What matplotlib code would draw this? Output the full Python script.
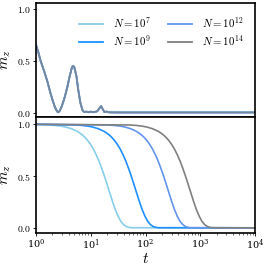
import matplotlib
matplotlib.use("Agg")
from matplotlib import pyplot as plt
from matplotlib.ticker import FormatStrFormatter

plt.rcParams['mathtext.fontset'] = 'cm'
plt.rcParams['font.family'] = 'serif'
plt.rcParams['font.serif'] = ['DejaVu Serif']

labels = [r"$N=10^7$", r"$N=10^9$", r"$N=10^{12}$", r"$N=10^{14}$"]
colors = ["#87CEEB", "#1E90FF", "#6495ED", "#808080"]

# top panel: log10(t) and m_z, same for all N
top_logt = [0.0, 0.04, 0.085, 0.15, 0.21, 0.26, 0.30, 0.34, 0.37, 0.40, 0.43, 0.47,
            0.52, 0.57, 0.62, 0.66, 0.68, 0.70, 0.74, 0.77, 0.81, 0.85, 0.88, 0.92,
            0.96, 1.0, 1.04, 1.08, 1.12, 1.16, 1.19, 1.22, 1.25, 1.29, 1.34, 1.45, 4.0]
top_mz = [0.655, 0.59, 0.50, 0.40, 0.30, 0.20, 0.13, 0.065, 0.03, 0.006, 0.015, 0.06,
          0.14, 0.24, 0.36, 0.44, 0.45, 0.44, 0.35, 0.23, 0.10, 0.025, 0.008, 0.012,
          0.006, 0.012, 0.006, 0.010, 0.015, 0.045, 0.065, 0.035, 0.008, 0.012, 0.005,
          0.004, 0.004]

# bottom panel: log10(t) and m_z for each N
logt_1e7 = [0.0, 0.25, 0.35, 0.45, 0.55, 0.65, 0.75, 0.8, 0.85, 0.9, 0.95, 1.0, 1.05,
            1.1, 1.15, 1.2, 1.25, 1.3, 1.35, 1.4, 1.45, 1.5, 1.55, 1.6, 1.65, 1.7,
            1.75, 4.0]
mz_1e7 = [0.997, 0.993, 0.989, 0.983, 0.973, 0.957, 0.933, 0.916, 0.896, 0.871, 0.840,
          0.803, 0.759, 0.706, 0.646, 0.576, 0.5, 0.418, 0.334, 0.251, 0.175, 0.112,
          0.063, 0.031, 0.0126, 0.004, 0.001, 0.0]
logt_1e9 = [0.0, 0.74, 0.84, 0.94, 1.04, 1.14, 1.24, 1.29, 1.34, 1.39, 1.44, 1.49, 1.54,
            1.59, 1.64, 1.69, 1.74, 1.79, 1.84, 1.89, 1.94, 1.99, 2.04, 2.09, 2.14, 2.19,
            2.24, 4.0]
mz_1e9 = [1.0, 0.993, 0.989, 0.983, 0.973, 0.957, 0.933, 0.916, 0.896, 0.871, 0.840,
          0.803, 0.759, 0.706, 0.646, 0.576, 0.5, 0.418, 0.334, 0.251, 0.175, 0.112,
          0.063, 0.031, 0.0126, 0.004, 0.001, 0.0]
logt_1e12 = [0.0, 1.33, 1.43, 1.53, 1.63, 1.73, 1.83, 1.88, 1.93, 1.98, 2.03, 2.08, 2.13,
             2.18, 2.23, 2.28, 2.33, 2.38, 2.43, 2.48, 2.53, 2.58, 2.63, 2.68, 2.73, 2.78,
             2.83, 4.0]
mz_1e12 = [1.0, 0.993, 0.989, 0.983, 0.973, 0.957, 0.933, 0.916, 0.896, 0.871, 0.840,
           0.803, 0.759, 0.706, 0.646, 0.576, 0.5, 0.418, 0.334, 0.251, 0.175, 0.112,
           0.063, 0.031, 0.0126, 0.004, 0.001, 0.0]
logt_1e14 = [0.0, 1.73, 1.83, 1.93, 2.03, 2.13, 2.23, 2.28, 2.33, 2.38, 2.43, 2.48, 2.53,
             2.58, 2.63, 2.68, 2.73, 2.78, 2.83, 2.88, 2.93, 2.98, 3.03, 3.08, 3.13, 3.18,
             3.23, 4.0]
mz_1e14 = [1.0, 0.993, 0.989, 0.983, 0.973, 0.957, 0.933, 0.916, 0.896, 0.871, 0.840,
           0.803, 0.759, 0.706, 0.646, 0.576, 0.5, 0.418, 0.334, 0.251, 0.175, 0.112,
           0.063, 0.031, 0.0126, 0.004, 0.001, 0.0]
bot_logt = [logt_1e7, logt_1e9, logt_1e12, logt_1e14]
bot_mz = [mz_1e7, mz_1e9, mz_1e12, mz_1e14]


def main():
    fig = plt.figure(figsize=(2.66, 2.66), dpi=100)
    ax1 = fig.add_axes([0.135, 0.56, 0.824, 0.427])
    ax2 = fig.add_axes([0.135, 0.124, 0.824, 0.436], sharex=ax1)

    top_t = [10 ** v for v in top_logt]
    for lab, col in zip(labels, colors):
        ax1.plot(top_t, top_mz, color=col, lw=1.3, label=lab, alpha=0.75)
    for lt, mz, col in zip(bot_logt, bot_mz, colors):
        ax2.plot([10 ** v for v in lt], mz, color=col, lw=1.2)

    ax1.set_xscale("log")
    ax1.set_xlim(1, 1e4)
    ax1.set_ylim(-0.04, 1.05)
    ax2.set_ylim(-0.05, 1.07)
    ax1.tick_params(which="both", labelbottom=False, bottom=False)

    for ax in (ax1, ax2):
        ax.set_yticks([0.0, 0.5, 1.0])
        ax.yaxis.set_major_formatter(FormatStrFormatter(r"$%.1f$"))
        ax.set_ylabel(r"$m_z$", fontsize=11)
        ax.yaxis.set_label_coords(-0.105, 0.5)
        ax.tick_params(labelsize=7, length=2, width=0.6, pad=1.5)
        for sp in ax.spines.values():
            sp.set_linewidth(1.2)
    ax2.tick_params(axis="x", which="minor", length=1.2, width=0.4)

    ax2.set_xlabel(r"$t$", fontsize=11, labelpad=0)
    leg = ax1.legend(ncol=2, frameon=False, fontsize=7.8, loc="upper right",
                     handlelength=2.2, columnspacing=1.6, labelspacing=0.3,
                     borderaxespad=0.7, handletextpad=0.9)
    for h in leg.get_lines():
        h.set_alpha(1.0)

    fig.savefig("out.png", dpi=100)


if __name__ == "__main__":
    main()
